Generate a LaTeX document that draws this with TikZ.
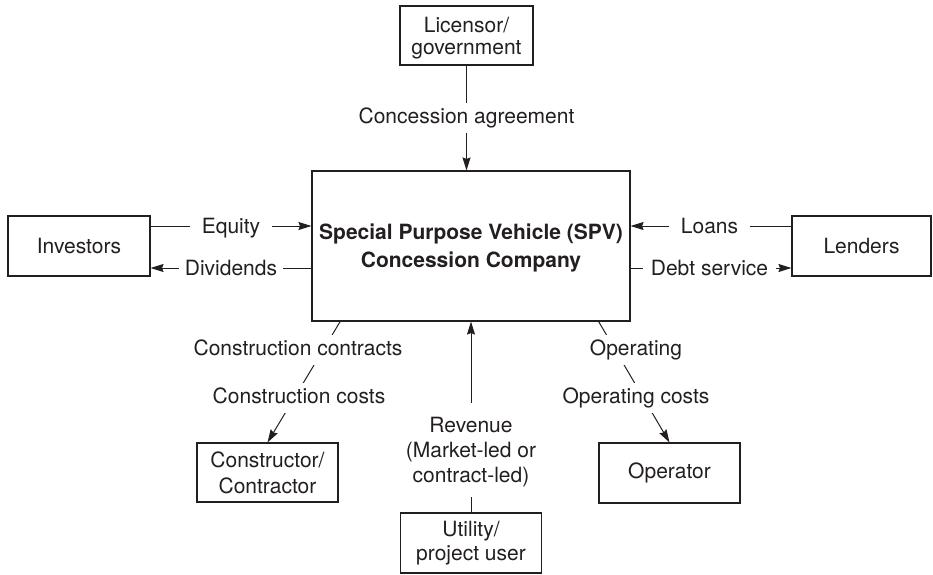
\documentclass[tikz,border=0pt]{standalone}
\usepackage{fontspec}
\setmainfont{TeX Gyre Heros}
\usetikzlibrary{arrows.meta,calc,backgrounds}
\definecolor{ink}{HTML}{231F20}
\begin{document}
\begin{tikzpicture}[x=1pt,y=-1pt,
  font=\fontsize{21}{24}\selectfont, text=ink,
  box/.style={draw=ink, line width=1.1pt, inner sep=0pt, align=center},
  lbl/.style={fill=white, inner xsep=2pt, inner ysep=5pt, text height=15.5pt, text depth=4.5pt},
  hlbl/.style={fill=white, inner ysep=2pt, text height=15.5pt, text depth=0pt},
  link/.style={draw=ink, line width=1pt},
  arr/.style={link, -{Stealth[length=13pt,width=8pt,inset=1.5pt]}}]
\useasboundingbox (0,0) rectangle (933,574);

% parties
\node[box, minimum width=133pt, minimum height=59pt, text depth=0pt,
      font=\fontsize{21}{22}\selectfont] (lic) at (466.5,35.5) {Licensor/\\government};
\node[box, minimum width=318pt, minimum height=150pt, text depth=0pt,
      font=\fontsize{21}{28}\selectfont\bfseries] (spv) at (471,246)
      {Special Purpose Vehicle (SPV)\\Concession Company};
\node[box, minimum width=142pt, minimum height=60pt] (inv) at (79,246) {Investors};
\node[box, minimum width=139pt, minimum height=60pt] (len) at (861.5,246) {Lenders};
\node[box, minimum width=141pt, minimum height=59pt,
      font=\fontsize{21}{26}\selectfont] (con) at (267.5,472.5) {Constructor/\\Contractor};
\node[box, minimum width=141pt, minimum height=60pt] (opr) at (669.5,473) {Operator};
\node[box, minimum width=141pt, minimum height=60pt] (uti) at (471,543) {Utility/\\project user};

% flow labels
\node[lbl] (conc) at (466.5,118) {Concession agreement};
\node[hlbl, inner xsep=12pt] (eq) at (231,226) {Equity};
\node[hlbl, inner xsep=5.5pt] (div) at (231,268) {Dividends};
\node[hlbl, inner xsep=11.5pt] (loan) at (709.5,226) {Loans};
\node[hlbl, inner xsep=7.5pt] (debt) at (709.5,268) {Debt service};
\node[lbl] (cc1) at (298,350) {Construction contracts};
\node[lbl] (cc2) at (299,398) {Construction costs};
\node[lbl] (op1) at (636,350) {Operating};
\node[lbl] (op2) at (636,398) {Operating costs};
\node[align=center, inner xsep=2pt, inner ysep=14.25pt, text depth=0pt,
      font=\fontsize{21}{25}\selectfont] (rev) at (471,450)
      {Revenue\\(Market-led or\\contract-led)};

% connectors
\coordinate (cs) at ($(spv.south west)!0.09!(spv.south east)$);
\coordinate (os) at ($(spv.south west)!0.9!(spv.south east)$);
\begin{scope}[on background layer]
  \draw[arr] (lic.south) -- (lic.south |- spv.north);
  \draw[arr] (inv.east |- eq) -- (spv.west |- eq);
  \draw[arr] (spv.west |- div) -- (inv.east |- div);
  \draw[arr] (len.west |- loan) -- (spv.east |- loan);
  \draw[arr] (spv.east |- debt) -- (len.west |- debt);
  \draw[arr] (cs) -- (con.north);
  \draw[arr] (os) -- (opr.north);
  \draw[arr] (rev) -- (spv);
  \draw[link] (uti) -- (rev);
\end{scope}
\end{tikzpicture}
\end{document}
